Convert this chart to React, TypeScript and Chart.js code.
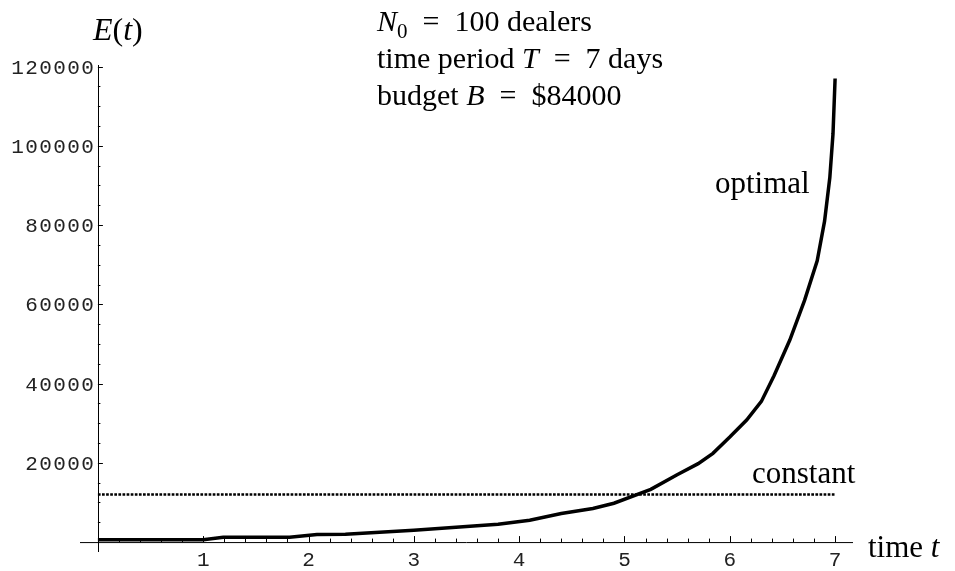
import React, { useEffect, useRef } from "react";
import { Chart, registerables } from "chart.js";
Chart.register(...registerables);

const optimalT = [0, 1.0, 1.19, 1.82, 2.08, 2.35, 3.0, 3.8, 4.1, 4.4, 4.7, 4.9, 5.25, 5.5, 5.7, 5.84, 6.0, 6.16, 6.3, 6.42, 6.57, 6.71, 6.83, 6.9, 6.95, 6.98, 7.0];
const optimalE = [600, 600, 1250, 1250, 1900, 2000, 3000, 4500, 5500, 7200, 8500, 9800, 13300, 17000, 19800, 22400, 26500, 30800, 35500, 42000, 51000, 61000, 71000, 81000, 92000, 103000, 117000];
const constantT = [0, 7];
const constantE = [12000, 12000];
const xTickValues = [1, 2, 3, 4, 5, 6, 7];
const yTickValues = [20000, 40000, 60000, 80000, 100000, 120000];
const xMinorStep = 0.2;
const yMinorStep = 5000;

const SERIF = '"Liberation Serif", "Times New Roman", serif';
const MONO = '"Liberation Mono", "Courier New", monospace';

type Run = { t: string; it?: boolean; sub?: boolean };

function drawRuns(ctx: CanvasRenderingContext2D, runs: Run[], x: number, y: number, size: number) {
  let cx = x;
  for (const r of runs) {
    const s = r.sub ? size * 0.7 : size;
    ctx.font = `${r.it ? "italic " : ""}${s}px ${SERIF}`;
    ctx.fillText(r.t, cx, r.sub ? y + size * 0.22 : y);
    cx += ctx.measureText(r.t).width;
  }
}

const axesPlugin = {
  id: "mmaAxes",
  beforeDatasetsDraw(chart: any) {
    const ctx: CanvasRenderingContext2D = chart.ctx;
    const xs = chart.scales.x;
    const ys = chart.scales.y;
    const area = chart.chartArea;
    const x0 = xs.getPixelForValue(0);
    const y0 = ys.getPixelForValue(0);
    ctx.save();
    ctx.strokeStyle = "#000";
    ctx.lineWidth = 1;
    ctx.beginPath();
    ctx.moveTo(area.left, y0 + 0.5);
    ctx.lineTo(area.right, y0 + 0.5);
    ctx.moveTo(Math.round(x0) + 0.5, area.top);
    ctx.lineTo(Math.round(x0) + 0.5, area.bottom);
    ctx.stroke();
    ctx.beginPath();
    for (let v = xMinorStep; v <= xs.max + 1e-9; v += xMinorStep) {
      const px = Math.round(xs.getPixelForValue(v)) + 0.5;
      const major = Math.abs(v - Math.round(v)) < 1e-6;
      ctx.moveTo(px, y0);
      ctx.lineTo(px, y0 - (major ? 6 : 3.5));
    }
    for (let v = yMinorStep; v <= ys.max + 1e-9; v += yMinorStep) {
      const py = Math.round(ys.getPixelForValue(v)) + 0.5;
      const major = v % 20000 === 0;
      ctx.moveTo(x0, py);
      ctx.lineTo(x0 + (major ? 5 : 2.5), py);
    }
    ctx.stroke();
    ctx.fillStyle = "#222";
    ctx.font = `21px ${MONO}`;
    (ctx as any).letterSpacing = "1.4px";
    ctx.textAlign = "center";
    ctx.textBaseline = "alphabetic";
    for (const v of xTickValues) {
      ctx.fillText(String(v), xs.getPixelForValue(v) + 0.7, y0 + 24);
    }
    ctx.textAlign = "right";
    for (const v of yTickValues) {
      ctx.fillText(String(v), x0 - 2.6, ys.getPixelForValue(v) + 7);
    }
    (ctx as any).letterSpacing = "0px";
    ctx.restore();
  },
  afterDraw(chart: any) {
    const ctx: CanvasRenderingContext2D = chart.ctx;
    const xs = chart.scales.x;
    const ys = chart.scales.y;
    const y0 = ys.getPixelForValue(0);
    ctx.save();
    ctx.fillStyle = "#000";
    ctx.textAlign = "left";
    ctx.textBaseline = "alphabetic";
    const sz = 30;
    drawRuns(ctx, [{ t: "E", it: true }, { t: "(" }, { t: "t", it: true }, { t: ")" }], 93, 40, 32);
    drawRuns(ctx, [{ t: "N", it: true }, { t: "0", sub: true }, { t: "\u2002=\u2002100 dealers" }], 377, 31, sz);
    drawRuns(ctx, [{ t: "time period " }, { t: "T", it: true }, { t: "\u2002=\u20027 days" }], 377, 68, sz);
    drawRuns(ctx, [{ t: "budget " }, { t: "B", it: true }, { t: "\u2002=\u2002$84000" }], 377, 105, sz);
    drawRuns(ctx, [{ t: "optimal" }], 715, 193, 31);
    drawRuns(ctx, [{ t: "constant" }], 752, 483, 31);
    drawRuns(ctx, [{ t: "time " }, { t: "t", it: true }], xs.right + 15, y0 + 15, 31);
    ctx.restore();
  },
};

export default function App() {
  const ref = useRef<HTMLCanvasElement | null>(null);
  useEffect(() => {
    if (!ref.current) return;
    const chart = new Chart(ref.current, {
      type: "line",
      data: {
        datasets: [
          {
            label: "optimal",
            data: optimalT.map((t, i) => ({ x: t, y: optimalE[i] })),
            borderColor: "#000",
            borderWidth: 3.5,
            pointRadius: 0,
            tension: 0,
            fill: false,
            clip: false as any,
          },
          {
            label: "constant",
            data: constantT.map((t, i) => ({ x: t, y: constantE[i] })),
            borderColor: "#000",
            borderWidth: 2.6,
            borderDash: [2.7, 1.4],
            borderCapStyle: "butt",
            pointRadius: 0,
            tension: 0,
            fill: false,
            clip: false as any,
          },
        ],
      },
      options: {
        animation: false,
        responsive: false,
        maintainAspectRatio: false,
        events: [],
        layout: { padding: { left: 80, right: 102, top: 65, bottom: 19 } },
        plugins: { legend: { display: false }, tooltip: { enabled: false } },
        scales: {
          x: { type: "linear", min: -0.17, max: 7.17, display: false },
          y: { type: "linear", min: -2500, max: 120400, display: false },
        },
      },
      plugins: [axesPlugin],
    });
    return () => chart.destroy();
  }, []);
  return (
    <div style={{ position: "fixed", left: 0, top: 0, width: 955, height: 571, background: "#fff" }}>
      <canvas ref={ref} width={955} height={571} style={{ display: "block", width: 955, height: 571 }} />
    </div>
  );
}
